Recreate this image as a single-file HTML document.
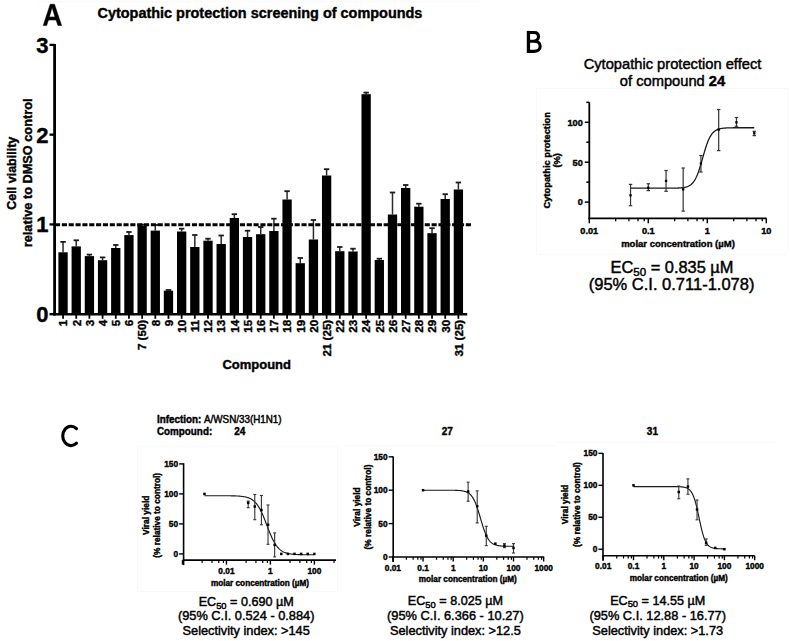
<!DOCTYPE html>
<html><head><meta charset="utf-8"><style>
html,body{margin:0;padding:0;background:#fff;width:790px;height:641px;overflow:hidden}
svg{display:block}
text{font-family:'Liberation Sans', sans-serif;fill:#000;stroke:#000;stroke-width:0.45px}
text[font-weight=bold]{stroke-width:0.4px}
</style></head><body>
<svg width="790" height="641" viewBox="0 0 790 641">
<rect width="790" height="641" fill="#fff"/>
<rect x="536.5" y="88.5" width="251.0" height="166.0" fill="none" stroke="#f9f9f9" stroke-width="1"/>
<rect x="137.5" y="446.5" width="200.0" height="145.0" fill="none" stroke="#f9f9f9" stroke-width="1"/>
<line x1="345.00" y1="445.50" x2="556.00" y2="445.50" stroke="#f9f9f9" stroke-width="1" />
<line x1="557.00" y1="442.50" x2="775.00" y2="442.50" stroke="#f9f9f9" stroke-width="1" />
<line x1="38.00" y1="1.50" x2="480.00" y2="1.50" stroke="#f9f9f9" stroke-width="1" />
<path d="M43.2,25.6 L50.2,4.2 L54.5,4.2 L61.6,25.6 L58.0,25.6 L56.0,20.0 L48.5,20.0 L46.6,25.6 Z M49.35,16.9 L55.0,16.9 L52.1,7.4 Z" fill="#000" fill-rule="evenodd" stroke="#000" stroke-width="0.5" stroke-linejoin="round"/>
<text x="97.50" y="17.80" font-size="14.45" font-weight="bold" text-anchor="start" >Cytopathic protection screening of compounds</text>
<line x1="54.60" y1="43.90" x2="54.60" y2="315.50" stroke="#000" stroke-width="2.8" />
<line x1="49.50" y1="314.20" x2="54.60" y2="314.20" stroke="#000" stroke-width="2.3" />
<text x="48.40" y="322.10" font-size="22" font-weight="bold" text-anchor="end" >0</text>
<line x1="49.50" y1="224.43" x2="54.60" y2="224.43" stroke="#000" stroke-width="2.3" />
<text x="48.40" y="232.33" font-size="22" font-weight="bold" text-anchor="end" >1</text>
<line x1="49.50" y1="134.67" x2="54.60" y2="134.67" stroke="#000" stroke-width="2.3" />
<text x="48.40" y="142.57" font-size="22" font-weight="bold" text-anchor="end" >2</text>
<line x1="49.50" y1="44.90" x2="54.60" y2="44.90" stroke="#000" stroke-width="2.3" />
<text x="48.40" y="52.80" font-size="22" font-weight="bold" text-anchor="end" >3</text>
<line x1="63.05" y1="252.30" x2="63.05" y2="241.90" stroke="#2a2a2a" stroke-width="1.5" />
<line x1="60.35" y1="241.90" x2="65.75" y2="241.90" stroke="#1a1a1a" stroke-width="1.8" />
<rect x="58.40" y="252.30" width="9.3" height="61.90" fill="#000"/>
<line x1="63.05" y1="314.20" x2="63.05" y2="318.80" stroke="#000" stroke-width="1.8" />
<line x1="76.23" y1="246.40" x2="76.23" y2="240.30" stroke="#2a2a2a" stroke-width="1.5" />
<line x1="73.53" y1="240.30" x2="78.93" y2="240.30" stroke="#1a1a1a" stroke-width="1.8" />
<rect x="71.58" y="246.40" width="9.3" height="67.80" fill="#000"/>
<line x1="76.23" y1="314.20" x2="76.23" y2="318.80" stroke="#000" stroke-width="1.8" />
<line x1="89.41" y1="256.10" x2="89.41" y2="254.60" stroke="#2a2a2a" stroke-width="1.5" />
<line x1="86.71" y1="254.60" x2="92.11" y2="254.60" stroke="#1a1a1a" stroke-width="1.8" />
<rect x="84.76" y="256.10" width="9.3" height="58.10" fill="#000"/>
<line x1="89.41" y1="314.20" x2="89.41" y2="318.80" stroke="#000" stroke-width="1.8" />
<line x1="102.58" y1="260.20" x2="102.58" y2="257.40" stroke="#2a2a2a" stroke-width="1.5" />
<line x1="99.88" y1="257.40" x2="105.28" y2="257.40" stroke="#1a1a1a" stroke-width="1.8" />
<rect x="97.93" y="260.20" width="9.3" height="54.00" fill="#000"/>
<line x1="102.58" y1="314.20" x2="102.58" y2="318.80" stroke="#000" stroke-width="1.8" />
<line x1="115.76" y1="248.00" x2="115.76" y2="245.00" stroke="#2a2a2a" stroke-width="1.5" />
<line x1="113.06" y1="245.00" x2="118.46" y2="245.00" stroke="#1a1a1a" stroke-width="1.8" />
<rect x="111.11" y="248.00" width="9.3" height="66.20" fill="#000"/>
<line x1="115.76" y1="314.20" x2="115.76" y2="318.80" stroke="#000" stroke-width="1.8" />
<line x1="128.94" y1="235.10" x2="128.94" y2="232.00" stroke="#2a2a2a" stroke-width="1.5" />
<line x1="126.24" y1="232.00" x2="131.64" y2="232.00" stroke="#1a1a1a" stroke-width="1.8" />
<rect x="124.29" y="235.10" width="9.3" height="79.10" fill="#000"/>
<line x1="128.94" y1="314.20" x2="128.94" y2="318.80" stroke="#000" stroke-width="1.8" />
<line x1="142.12" y1="225.60" x2="142.12" y2="224.60" stroke="#2a2a2a" stroke-width="1.5" />
<line x1="139.42" y1="224.60" x2="144.82" y2="224.60" stroke="#1a1a1a" stroke-width="1.8" />
<rect x="137.47" y="225.60" width="9.3" height="88.60" fill="#000"/>
<line x1="142.12" y1="314.20" x2="142.12" y2="318.80" stroke="#000" stroke-width="1.8" />
<line x1="155.30" y1="230.60" x2="155.30" y2="225.00" stroke="#2a2a2a" stroke-width="1.5" />
<line x1="152.60" y1="225.00" x2="158.00" y2="225.00" stroke="#1a1a1a" stroke-width="1.8" />
<rect x="150.65" y="230.60" width="9.3" height="83.60" fill="#000"/>
<line x1="155.30" y1="314.20" x2="155.30" y2="318.80" stroke="#000" stroke-width="1.8" />
<line x1="168.47" y1="290.70" x2="168.47" y2="290.00" stroke="#2a2a2a" stroke-width="1.5" />
<line x1="165.77" y1="290.00" x2="171.17" y2="290.00" stroke="#1a1a1a" stroke-width="1.8" />
<rect x="163.82" y="290.70" width="9.3" height="23.50" fill="#000"/>
<line x1="168.47" y1="314.20" x2="168.47" y2="318.80" stroke="#000" stroke-width="1.8" />
<line x1="181.65" y1="231.50" x2="181.65" y2="228.70" stroke="#2a2a2a" stroke-width="1.5" />
<line x1="178.95" y1="228.70" x2="184.35" y2="228.70" stroke="#1a1a1a" stroke-width="1.8" />
<rect x="177.00" y="231.50" width="9.3" height="82.70" fill="#000"/>
<line x1="181.65" y1="314.20" x2="181.65" y2="318.80" stroke="#000" stroke-width="1.8" />
<line x1="194.83" y1="247.00" x2="194.83" y2="235.00" stroke="#2a2a2a" stroke-width="1.5" />
<line x1="192.13" y1="235.00" x2="197.53" y2="235.00" stroke="#1a1a1a" stroke-width="1.8" />
<rect x="190.18" y="247.00" width="9.3" height="67.20" fill="#000"/>
<line x1="194.83" y1="314.20" x2="194.83" y2="318.80" stroke="#000" stroke-width="1.8" />
<line x1="208.01" y1="240.70" x2="208.01" y2="238.70" stroke="#2a2a2a" stroke-width="1.5" />
<line x1="205.31" y1="238.70" x2="210.71" y2="238.70" stroke="#1a1a1a" stroke-width="1.8" />
<rect x="203.36" y="240.70" width="9.3" height="73.50" fill="#000"/>
<line x1="208.01" y1="314.20" x2="208.01" y2="318.80" stroke="#000" stroke-width="1.8" />
<line x1="221.19" y1="244.00" x2="221.19" y2="235.50" stroke="#2a2a2a" stroke-width="1.5" />
<line x1="218.49" y1="235.50" x2="223.89" y2="235.50" stroke="#1a1a1a" stroke-width="1.8" />
<rect x="216.54" y="244.00" width="9.3" height="70.20" fill="#000"/>
<line x1="221.19" y1="314.20" x2="221.19" y2="318.80" stroke="#000" stroke-width="1.8" />
<line x1="234.36" y1="218.00" x2="234.36" y2="214.20" stroke="#2a2a2a" stroke-width="1.5" />
<line x1="231.66" y1="214.20" x2="237.06" y2="214.20" stroke="#1a1a1a" stroke-width="1.8" />
<rect x="229.71" y="218.00" width="9.3" height="96.20" fill="#000"/>
<line x1="234.36" y1="314.20" x2="234.36" y2="318.80" stroke="#000" stroke-width="1.8" />
<line x1="247.54" y1="237.00" x2="247.54" y2="230.70" stroke="#2a2a2a" stroke-width="1.5" />
<line x1="244.84" y1="230.70" x2="250.24" y2="230.70" stroke="#1a1a1a" stroke-width="1.8" />
<rect x="242.89" y="237.00" width="9.3" height="77.20" fill="#000"/>
<line x1="247.54" y1="314.20" x2="247.54" y2="318.80" stroke="#000" stroke-width="1.8" />
<line x1="260.72" y1="234.20" x2="260.72" y2="227.00" stroke="#2a2a2a" stroke-width="1.5" />
<line x1="258.02" y1="227.00" x2="263.42" y2="227.00" stroke="#1a1a1a" stroke-width="1.8" />
<rect x="256.07" y="234.20" width="9.3" height="80.00" fill="#000"/>
<line x1="260.72" y1="314.20" x2="260.72" y2="318.80" stroke="#000" stroke-width="1.8" />
<line x1="273.90" y1="231.00" x2="273.90" y2="218.70" stroke="#2a2a2a" stroke-width="1.5" />
<line x1="271.20" y1="218.70" x2="276.60" y2="218.70" stroke="#1a1a1a" stroke-width="1.8" />
<rect x="269.25" y="231.00" width="9.3" height="83.20" fill="#000"/>
<line x1="273.90" y1="314.20" x2="273.90" y2="318.80" stroke="#000" stroke-width="1.8" />
<line x1="287.08" y1="199.50" x2="287.08" y2="191.20" stroke="#2a2a2a" stroke-width="1.5" />
<line x1="284.38" y1="191.20" x2="289.78" y2="191.20" stroke="#1a1a1a" stroke-width="1.8" />
<rect x="282.43" y="199.50" width="9.3" height="114.70" fill="#000"/>
<line x1="287.08" y1="314.20" x2="287.08" y2="318.80" stroke="#000" stroke-width="1.8" />
<line x1="300.25" y1="263.20" x2="300.25" y2="258.00" stroke="#2a2a2a" stroke-width="1.5" />
<line x1="297.55" y1="258.00" x2="302.95" y2="258.00" stroke="#1a1a1a" stroke-width="1.8" />
<rect x="295.60" y="263.20" width="9.3" height="51.00" fill="#000"/>
<line x1="300.25" y1="314.20" x2="300.25" y2="318.80" stroke="#000" stroke-width="1.8" />
<line x1="313.43" y1="239.50" x2="313.43" y2="220.00" stroke="#2a2a2a" stroke-width="1.5" />
<line x1="310.73" y1="220.00" x2="316.13" y2="220.00" stroke="#1a1a1a" stroke-width="1.8" />
<rect x="308.78" y="239.50" width="9.3" height="74.70" fill="#000"/>
<line x1="313.43" y1="314.20" x2="313.43" y2="318.80" stroke="#000" stroke-width="1.8" />
<line x1="326.61" y1="175.50" x2="326.61" y2="169.20" stroke="#2a2a2a" stroke-width="1.5" />
<line x1="323.91" y1="169.20" x2="329.31" y2="169.20" stroke="#1a1a1a" stroke-width="1.8" />
<rect x="321.96" y="175.50" width="9.3" height="138.70" fill="#000"/>
<line x1="326.61" y1="314.20" x2="326.61" y2="318.80" stroke="#000" stroke-width="1.8" />
<line x1="339.79" y1="251.20" x2="339.79" y2="247.00" stroke="#2a2a2a" stroke-width="1.5" />
<line x1="337.09" y1="247.00" x2="342.49" y2="247.00" stroke="#1a1a1a" stroke-width="1.8" />
<rect x="335.14" y="251.20" width="9.3" height="63.00" fill="#000"/>
<line x1="339.79" y1="314.20" x2="339.79" y2="318.80" stroke="#000" stroke-width="1.8" />
<line x1="352.97" y1="251.50" x2="352.97" y2="248.70" stroke="#2a2a2a" stroke-width="1.5" />
<line x1="350.27" y1="248.70" x2="355.67" y2="248.70" stroke="#1a1a1a" stroke-width="1.8" />
<rect x="348.32" y="251.50" width="9.3" height="62.70" fill="#000"/>
<line x1="352.97" y1="314.20" x2="352.97" y2="318.80" stroke="#000" stroke-width="1.8" />
<line x1="366.14" y1="94.20" x2="366.14" y2="92.60" stroke="#2a2a2a" stroke-width="1.5" />
<line x1="363.44" y1="92.60" x2="368.84" y2="92.60" stroke="#1a1a1a" stroke-width="1.8" />
<rect x="361.49" y="94.20" width="9.3" height="220.00" fill="#000"/>
<line x1="366.14" y1="314.20" x2="366.14" y2="318.80" stroke="#000" stroke-width="1.8" />
<line x1="379.32" y1="260.00" x2="379.32" y2="258.70" stroke="#2a2a2a" stroke-width="1.5" />
<line x1="376.62" y1="258.70" x2="382.02" y2="258.70" stroke="#1a1a1a" stroke-width="1.8" />
<rect x="374.67" y="260.00" width="9.3" height="54.20" fill="#000"/>
<line x1="379.32" y1="314.20" x2="379.32" y2="318.80" stroke="#000" stroke-width="1.8" />
<line x1="392.50" y1="214.50" x2="392.50" y2="192.50" stroke="#2a2a2a" stroke-width="1.5" />
<line x1="389.80" y1="192.50" x2="395.20" y2="192.50" stroke="#1a1a1a" stroke-width="1.8" />
<rect x="387.85" y="214.50" width="9.3" height="99.70" fill="#000"/>
<line x1="392.50" y1="314.20" x2="392.50" y2="318.80" stroke="#000" stroke-width="1.8" />
<line x1="405.68" y1="188.00" x2="405.68" y2="185.00" stroke="#2a2a2a" stroke-width="1.5" />
<line x1="402.98" y1="185.00" x2="408.38" y2="185.00" stroke="#1a1a1a" stroke-width="1.8" />
<rect x="401.03" y="188.00" width="9.3" height="126.20" fill="#000"/>
<line x1="405.68" y1="314.20" x2="405.68" y2="318.80" stroke="#000" stroke-width="1.8" />
<line x1="418.86" y1="206.70" x2="418.86" y2="203.70" stroke="#2a2a2a" stroke-width="1.5" />
<line x1="416.16" y1="203.70" x2="421.56" y2="203.70" stroke="#1a1a1a" stroke-width="1.8" />
<rect x="414.21" y="206.70" width="9.3" height="107.50" fill="#000"/>
<line x1="418.86" y1="314.20" x2="418.86" y2="318.80" stroke="#000" stroke-width="1.8" />
<line x1="432.03" y1="233.20" x2="432.03" y2="228.20" stroke="#2a2a2a" stroke-width="1.5" />
<line x1="429.33" y1="228.20" x2="434.73" y2="228.20" stroke="#1a1a1a" stroke-width="1.8" />
<rect x="427.38" y="233.20" width="9.3" height="81.00" fill="#000"/>
<line x1="432.03" y1="314.20" x2="432.03" y2="318.80" stroke="#000" stroke-width="1.8" />
<line x1="445.21" y1="199.00" x2="445.21" y2="194.20" stroke="#2a2a2a" stroke-width="1.5" />
<line x1="442.51" y1="194.20" x2="447.91" y2="194.20" stroke="#1a1a1a" stroke-width="1.8" />
<rect x="440.56" y="199.00" width="9.3" height="115.20" fill="#000"/>
<line x1="445.21" y1="314.20" x2="445.21" y2="318.80" stroke="#000" stroke-width="1.8" />
<line x1="458.39" y1="189.50" x2="458.39" y2="182.50" stroke="#2a2a2a" stroke-width="1.5" />
<line x1="455.69" y1="182.50" x2="461.09" y2="182.50" stroke="#1a1a1a" stroke-width="1.8" />
<rect x="453.74" y="189.50" width="9.3" height="124.70" fill="#000"/>
<line x1="458.39" y1="314.20" x2="458.39" y2="318.80" stroke="#000" stroke-width="1.8" />
<line x1="53.20" y1="314.20" x2="467.20" y2="314.20" stroke="#000" stroke-width="2.6" />
<line x1="55.00" y1="224.73" x2="471.00" y2="224.73" stroke="#000" stroke-width="3.1" stroke-dasharray="5.1 1.747"/>
<text x="0" y="0" font-size="11.6" font-weight="bold" text-anchor="end" transform="translate(67.35 319.8) rotate(-90)">1</text>
<text x="0" y="0" font-size="11.6" font-weight="bold" text-anchor="end" transform="translate(80.53 319.8) rotate(-90)">2</text>
<text x="0" y="0" font-size="11.6" font-weight="bold" text-anchor="end" transform="translate(93.71 319.8) rotate(-90)">3</text>
<text x="0" y="0" font-size="11.6" font-weight="bold" text-anchor="end" transform="translate(106.88 319.8) rotate(-90)">4</text>
<text x="0" y="0" font-size="11.6" font-weight="bold" text-anchor="end" transform="translate(120.06 319.8) rotate(-90)">5</text>
<text x="0" y="0" font-size="11.6" font-weight="bold" text-anchor="end" transform="translate(133.24 319.8) rotate(-90)">6</text>
<text x="0" y="0" font-size="11.6" font-weight="bold" text-anchor="end" transform="translate(146.42 319.8) rotate(-90)">7 (50)</text>
<text x="0" y="0" font-size="11.6" font-weight="bold" text-anchor="end" transform="translate(159.60 319.8) rotate(-90)">8</text>
<text x="0" y="0" font-size="11.6" font-weight="bold" text-anchor="end" transform="translate(172.77 319.8) rotate(-90)">9</text>
<text x="0" y="0" font-size="11.6" font-weight="bold" text-anchor="end" transform="translate(185.95 319.8) rotate(-90)">10</text>
<text x="0" y="0" font-size="11.6" font-weight="bold" text-anchor="end" transform="translate(199.13 319.8) rotate(-90)">11</text>
<text x="0" y="0" font-size="11.6" font-weight="bold" text-anchor="end" transform="translate(212.31 319.8) rotate(-90)">12</text>
<text x="0" y="0" font-size="11.6" font-weight="bold" text-anchor="end" transform="translate(225.49 319.8) rotate(-90)">13</text>
<text x="0" y="0" font-size="11.6" font-weight="bold" text-anchor="end" transform="translate(238.66 319.8) rotate(-90)">14</text>
<text x="0" y="0" font-size="11.6" font-weight="bold" text-anchor="end" transform="translate(251.84 319.8) rotate(-90)">15</text>
<text x="0" y="0" font-size="11.6" font-weight="bold" text-anchor="end" transform="translate(265.02 319.8) rotate(-90)">16</text>
<text x="0" y="0" font-size="11.6" font-weight="bold" text-anchor="end" transform="translate(278.20 319.8) rotate(-90)">17</text>
<text x="0" y="0" font-size="11.6" font-weight="bold" text-anchor="end" transform="translate(291.38 319.8) rotate(-90)">18</text>
<text x="0" y="0" font-size="11.6" font-weight="bold" text-anchor="end" transform="translate(304.55 319.8) rotate(-90)">19</text>
<text x="0" y="0" font-size="11.6" font-weight="bold" text-anchor="end" transform="translate(317.73 319.8) rotate(-90)">20</text>
<text x="0" y="0" font-size="11.6" font-weight="bold" text-anchor="end" transform="translate(330.91 319.8) rotate(-90)">21 (25)</text>
<text x="0" y="0" font-size="11.6" font-weight="bold" text-anchor="end" transform="translate(344.09 319.8) rotate(-90)">22</text>
<text x="0" y="0" font-size="11.6" font-weight="bold" text-anchor="end" transform="translate(357.27 319.8) rotate(-90)">23</text>
<text x="0" y="0" font-size="11.6" font-weight="bold" text-anchor="end" transform="translate(370.44 319.8) rotate(-90)">24</text>
<text x="0" y="0" font-size="11.6" font-weight="bold" text-anchor="end" transform="translate(383.62 319.8) rotate(-90)">25</text>
<text x="0" y="0" font-size="11.6" font-weight="bold" text-anchor="end" transform="translate(396.80 319.8) rotate(-90)">26</text>
<text x="0" y="0" font-size="11.6" font-weight="bold" text-anchor="end" transform="translate(409.98 319.8) rotate(-90)">27</text>
<text x="0" y="0" font-size="11.6" font-weight="bold" text-anchor="end" transform="translate(423.16 319.8) rotate(-90)">28</text>
<text x="0" y="0" font-size="11.6" font-weight="bold" text-anchor="end" transform="translate(436.33 319.8) rotate(-90)">29</text>
<text x="0" y="0" font-size="11.6" font-weight="bold" text-anchor="end" transform="translate(449.51 319.8) rotate(-90)">30</text>
<text x="0" y="0" font-size="11.6" font-weight="bold" text-anchor="end" transform="translate(462.69 319.8) rotate(-90)">31 (25)</text>
<text x="222.40" y="369.30" font-size="13" font-weight="bold" text-anchor="start" >Compound</text>
<text x="0" y="0" font-size="12.5" font-weight="bold" text-anchor="middle" transform="translate(15.8 173.2) rotate(-90)">Cell viability</text>
<text x="0" y="0" font-size="12.75" font-weight="bold" text-anchor="middle" transform="translate(32.0 172.9) rotate(-90)">relative to DMSO control</text>
<path d="M528.45,30.9 V52.9" stroke="#000" stroke-width="3.3" fill="none"/>
<path d="M528.45,32.45 H534.2 C537.5,32.45 538.5,34.5 538.5,36.6 C538.5,39.2 536.6,41.2 533.8,41.2 H528.45 M533.8,41.2 C537.6,41.2 540.2,43.2 540.2,46.2 C540.2,49.5 537.5,51.35 533.8,51.35 H528.45" stroke="#000" stroke-width="3.1" fill="none"/>
<text x="672.50" y="69.40" font-size="14.7" font-weight="normal" text-anchor="middle" >Cytopathic protection effect</text>
<text x="672.5" y="85.9" font-size="14.7" text-anchor="middle">of compound <tspan font-weight="bold">24</tspan></text>
<line x1="589.30" y1="102.20" x2="589.30" y2="219.20" stroke="#000" stroke-width="1.8" />
<line x1="586.30" y1="102.35" x2="589.30" y2="102.35" stroke="#000" stroke-width="1.5" />
<line x1="584.80" y1="122.30" x2="589.30" y2="122.30" stroke="#000" stroke-width="1.5" />
<line x1="586.30" y1="142.25" x2="589.30" y2="142.25" stroke="#000" stroke-width="1.5" />
<line x1="584.80" y1="162.20" x2="589.30" y2="162.20" stroke="#000" stroke-width="1.5" />
<line x1="586.30" y1="182.15" x2="589.30" y2="182.15" stroke="#000" stroke-width="1.5" />
<line x1="584.80" y1="202.10" x2="589.30" y2="202.10" stroke="#000" stroke-width="1.5" />
<text x="582.80" y="125.60" font-size="9.2" font-weight="bold" text-anchor="end" >100</text>
<text x="582.80" y="165.50" font-size="9.2" font-weight="bold" text-anchor="end" >50</text>
<text x="582.80" y="205.40" font-size="9.2" font-weight="bold" text-anchor="end" >0</text>
<line x1="588.40" y1="218.30" x2="766.60" y2="218.30" stroke="#000" stroke-width="1.8" />
<line x1="589.30" y1="218.30" x2="589.30" y2="223.30" stroke="#000" stroke-width="1.5" />
<line x1="615.67" y1="218.30" x2="615.67" y2="221.30" stroke="#000" stroke-width="1.3" />
<line x1="628.89" y1="218.30" x2="628.89" y2="221.30" stroke="#000" stroke-width="1.3" />
<line x1="638.03" y1="218.30" x2="638.03" y2="221.30" stroke="#000" stroke-width="1.3" />
<line x1="644.23" y1="218.30" x2="644.23" y2="221.30" stroke="#000" stroke-width="1.3" />
<line x1="648.30" y1="218.30" x2="648.30" y2="223.30" stroke="#000" stroke-width="1.5" />
<line x1="674.67" y1="218.30" x2="674.67" y2="221.30" stroke="#000" stroke-width="1.3" />
<line x1="687.89" y1="218.30" x2="687.89" y2="221.30" stroke="#000" stroke-width="1.3" />
<line x1="697.03" y1="218.30" x2="697.03" y2="221.30" stroke="#000" stroke-width="1.3" />
<line x1="703.23" y1="218.30" x2="703.23" y2="221.30" stroke="#000" stroke-width="1.3" />
<line x1="707.30" y1="218.30" x2="707.30" y2="223.30" stroke="#000" stroke-width="1.5" />
<line x1="733.67" y1="218.30" x2="733.67" y2="221.30" stroke="#000" stroke-width="1.3" />
<line x1="746.89" y1="218.30" x2="746.89" y2="221.30" stroke="#000" stroke-width="1.3" />
<line x1="756.03" y1="218.30" x2="756.03" y2="221.30" stroke="#000" stroke-width="1.3" />
<line x1="762.23" y1="218.30" x2="762.23" y2="221.30" stroke="#000" stroke-width="1.3" />
<line x1="766.30" y1="218.30" x2="766.30" y2="223.30" stroke="#000" stroke-width="1.5" />
<text x="589.30" y="233.60" font-size="9.2" font-weight="bold" text-anchor="middle" >0.01</text>
<text x="648.30" y="233.60" font-size="9.2" font-weight="bold" text-anchor="middle" >0.1</text>
<text x="707.30" y="233.60" font-size="9.2" font-weight="bold" text-anchor="middle" >1</text>
<text x="766.30" y="233.60" font-size="9.2" font-weight="bold" text-anchor="middle" >10</text>
<text x="678.00" y="247.30" font-size="9.5" font-weight="bold" text-anchor="middle" >molar concentration (µM)</text>
<text x="0" y="0" font-size="9.35" font-weight="bold" text-anchor="middle" transform="translate(549.9 160.3) rotate(-90)">Cytopathic protection</text>
<text x="0" y="0" font-size="9.35" font-weight="bold" text-anchor="middle" transform="translate(560.4 160.3) rotate(-90)">(%)</text>
<path d="M630.54,188.21 L631.16,188.21 L631.78,188.21 L632.39,188.21 L633.01,188.21 L633.63,188.21 L634.25,188.21 L634.87,188.21 L635.49,188.21 L636.11,188.21 L636.73,188.21 L637.34,188.21 L637.96,188.21 L638.58,188.21 L639.20,188.21 L639.82,188.21 L640.44,188.21 L641.06,188.21 L641.67,188.21 L642.29,188.21 L642.91,188.21 L643.53,188.21 L644.15,188.21 L644.77,188.21 L645.39,188.21 L646.00,188.21 L646.62,188.21 L647.24,188.21 L647.86,188.21 L648.48,188.21 L649.10,188.21 L649.72,188.21 L650.33,188.21 L650.95,188.21 L651.57,188.21 L652.19,188.21 L652.81,188.21 L653.43,188.21 L654.05,188.21 L654.66,188.21 L655.28,188.21 L655.90,188.21 L656.52,188.21 L657.14,188.21 L657.76,188.21 L658.38,188.21 L658.99,188.21 L659.61,188.21 L660.23,188.21 L660.85,188.21 L661.47,188.21 L662.09,188.21 L662.71,188.21 L663.32,188.21 L663.94,188.21 L664.56,188.21 L665.18,188.21 L665.80,188.20 L666.42,188.20 L667.04,188.20 L667.65,188.20 L668.27,188.20 L668.89,188.19 L669.51,188.19 L670.13,188.19 L670.75,188.18 L671.37,188.18 L671.98,188.17 L672.60,188.16 L673.22,188.15 L673.84,188.14 L674.46,188.13 L675.08,188.12 L675.70,188.11 L676.31,188.09 L676.93,188.07 L677.55,188.05 L678.17,188.02 L678.79,187.99 L679.41,187.96 L680.03,187.92 L680.64,187.87 L681.26,187.82 L681.88,187.75 L682.50,187.68 L683.12,187.60 L683.74,187.51 L684.36,187.40 L684.98,187.27 L685.59,187.13 L686.21,186.96 L686.83,186.77 L687.45,186.55 L688.07,186.30 L688.69,186.01 L689.31,185.69 L689.92,185.31 L690.54,184.88 L691.16,184.40 L691.78,183.84 L692.40,183.22 L693.02,182.51 L693.64,181.72 L694.25,180.83 L694.87,179.84 L695.49,178.74 L696.11,177.52 L696.73,176.19 L697.35,174.73 L697.97,173.15 L698.58,171.45 L699.20,169.64 L699.82,167.73 L700.44,165.72 L701.06,163.64 L701.68,161.50 L702.30,159.33 L702.91,157.14 L703.53,154.96 L704.15,152.81 L704.77,150.71 L705.39,148.69 L706.01,146.75 L706.63,144.91 L707.24,143.19 L707.86,141.58 L708.48,140.09 L709.10,138.73 L709.72,137.49 L710.34,136.36 L710.96,135.34 L711.57,134.43 L712.19,133.61 L712.81,132.89 L713.43,132.24 L714.05,131.67 L714.67,131.17 L715.29,130.73 L715.90,130.34 L716.52,130.00 L717.14,129.71 L717.76,129.45 L718.38,129.22 L719.00,129.02 L719.62,128.85 L720.23,128.70 L720.85,128.57 L721.47,128.46 L722.09,128.36 L722.71,128.28 L723.33,128.20 L723.95,128.14 L724.56,128.08 L725.18,128.04 L725.80,127.99 L726.42,127.96 L727.04,127.93 L727.66,127.90 L728.28,127.88 L728.89,127.86 L729.51,127.84 L730.13,127.82 L730.75,127.81 L731.37,127.80 L731.99,127.79 L732.61,127.78 L733.22,127.77 L733.84,127.77 L734.46,127.76 L735.08,127.76 L735.70,127.75 L736.32,127.75 L736.94,127.75 L737.56,127.74 L738.17,127.74 L738.79,127.74 L739.41,127.74 L740.03,127.74 L740.65,127.73 L741.27,127.73 L741.89,127.73 L742.50,127.73 L743.12,127.73 L743.74,127.73 L744.36,127.73 L744.98,127.73 L745.60,127.73 L746.22,127.73 L746.83,127.73 L747.45,127.73 L748.07,127.73 L748.69,127.73 L749.31,127.73 L749.93,127.73 L750.55,127.73 L751.16,127.73 L751.78,127.73 L752.40,127.73 L753.02,127.73 L753.64,127.73 L754.26,127.73" fill="none" stroke="#1a1a1a" stroke-width="1.3"/>
<line x1="630.54" y1="205.69" x2="630.54" y2="184.38" stroke="#333" stroke-width="1.2" />
<line x1="628.84" y1="205.69" x2="632.24" y2="205.69" stroke="#333" stroke-width="1.2" />
<line x1="628.84" y1="184.38" x2="632.24" y2="184.38" stroke="#333" stroke-width="1.2" />
<rect x="629.39" y="194.17" width="2.30" height="2.30" fill="#000"/>
<line x1="648.30" y1="190.61" x2="648.30" y2="183.75" stroke="#333" stroke-width="1.2" />
<line x1="646.60" y1="190.61" x2="650.00" y2="190.61" stroke="#333" stroke-width="1.2" />
<line x1="646.60" y1="183.75" x2="650.00" y2="183.75" stroke="#333" stroke-width="1.2" />
<rect x="647.15" y="186.59" width="2.30" height="2.30" fill="#000"/>
<line x1="666.06" y1="191.33" x2="666.06" y2="170.50" stroke="#333" stroke-width="1.2" />
<line x1="664.36" y1="191.33" x2="667.76" y2="191.33" stroke="#333" stroke-width="1.2" />
<line x1="664.36" y1="170.50" x2="667.76" y2="170.50" stroke="#333" stroke-width="1.2" />
<rect x="664.91" y="179.72" width="2.30" height="2.30" fill="#000"/>
<line x1="683.17" y1="211.12" x2="683.17" y2="168.03" stroke="#333" stroke-width="1.2" />
<line x1="681.47" y1="211.12" x2="684.87" y2="211.12" stroke="#333" stroke-width="1.2" />
<line x1="681.47" y1="168.03" x2="684.87" y2="168.03" stroke="#333" stroke-width="1.2" />
<rect x="682.02" y="188.18" width="2.30" height="2.30" fill="#000"/>
<line x1="700.93" y1="172.02" x2="700.93" y2="155.50" stroke="#333" stroke-width="1.2" />
<line x1="699.23" y1="172.02" x2="702.63" y2="172.02" stroke="#333" stroke-width="1.2" />
<line x1="699.23" y1="155.50" x2="702.63" y2="155.50" stroke="#333" stroke-width="1.2" />
<rect x="699.78" y="162.33" width="2.30" height="2.30" fill="#000"/>
<line x1="718.69" y1="150.63" x2="718.69" y2="109.53" stroke="#333" stroke-width="1.2" />
<line x1="716.99" y1="150.63" x2="720.39" y2="150.63" stroke="#333" stroke-width="1.2" />
<line x1="716.99" y1="109.53" x2="720.39" y2="109.53" stroke="#333" stroke-width="1.2" />
<rect x="717.54" y="128.49" width="2.30" height="2.30" fill="#000"/>
<line x1="736.46" y1="126.29" x2="736.46" y2="117.51" stroke="#333" stroke-width="1.2" />
<line x1="734.76" y1="126.29" x2="738.16" y2="126.29" stroke="#333" stroke-width="1.2" />
<line x1="734.76" y1="117.51" x2="738.16" y2="117.51" stroke="#333" stroke-width="1.2" />
<rect x="735.31" y="121.15" width="2.30" height="2.30" fill="#000"/>
<line x1="754.26" y1="135.63" x2="754.26" y2="131.32" stroke="#333" stroke-width="1.2" />
<line x1="752.56" y1="135.63" x2="755.96" y2="135.63" stroke="#333" stroke-width="1.2" />
<line x1="752.56" y1="131.32" x2="755.96" y2="131.32" stroke="#333" stroke-width="1.2" />
<rect x="753.11" y="132.08" width="2.30" height="2.30" fill="#000"/>
<text x="672.00" y="272.80" font-size="16.4" font-weight="normal" text-anchor="middle" >EC<tspan font-size="11.5" dy="3.0">50</tspan><tspan dy="-3.0"> = 0.835 µM</tspan></text>
<text x="671.60" y="289.70" font-size="16.5" font-weight="normal" text-anchor="middle" >(95% C.I. 0.711-1.078)</text>
<path d="M76.5,428.6 A8.3,9.7 0 1 0 76.5,443.2" stroke="#000" stroke-width="3.1" fill="none" stroke-linecap="round"/>
<g transform="translate(157 0) scale(0.965 1) translate(-157 0)">
<text x="157" y="423.2" font-size="10.2"><tspan font-weight="bold">Infection: </tspan>A/WSN/33(H1N1)</text>
<text x="157.00" y="435.00" font-size="10.2" font-weight="bold" text-anchor="start" >Compound:</text>
</g>
<text x="234.20" y="435.00" font-size="10.0" font-weight="bold" text-anchor="start" >24</text>
<text x="447.30" y="435.40" font-size="10.0" font-weight="bold" text-anchor="middle" >27</text>
<text x="652.40" y="435.40" font-size="10.0" font-weight="bold" text-anchor="middle" >31</text>
<line x1="183.60" y1="463.20" x2="183.60" y2="565.10" stroke="#000" stroke-width="1.6" />
<line x1="179.10" y1="463.90" x2="183.60" y2="463.90" stroke="#000" stroke-width="1.4" />
<text x="178.00" y="466.90" font-size="8.3" font-weight="bold" text-anchor="end" >150</text>
<line x1="179.10" y1="493.90" x2="183.60" y2="493.90" stroke="#000" stroke-width="1.4" />
<text x="178.00" y="496.90" font-size="8.3" font-weight="bold" text-anchor="end" >100</text>
<line x1="179.10" y1="523.90" x2="183.60" y2="523.90" stroke="#000" stroke-width="1.4" />
<text x="178.00" y="526.90" font-size="8.3" font-weight="bold" text-anchor="end" >50</text>
<line x1="179.10" y1="553.90" x2="183.60" y2="553.90" stroke="#000" stroke-width="1.4" />
<text x="178.00" y="556.90" font-size="8.3" font-weight="bold" text-anchor="end" >0</text>
<line x1="182.80" y1="560.10" x2="336.00" y2="560.10" stroke="#000" stroke-width="1.6" />
<line x1="182.48" y1="560.10" x2="182.48" y2="564.60" stroke="#000" stroke-width="1.4" />
<line x1="226.44" y1="560.10" x2="226.44" y2="564.60" stroke="#000" stroke-width="1.4" />
<line x1="270.40" y1="560.10" x2="270.40" y2="564.60" stroke="#000" stroke-width="1.4" />
<line x1="314.36" y1="560.10" x2="314.36" y2="564.60" stroke="#000" stroke-width="1.4" />
<line x1="202.13" y1="560.10" x2="202.13" y2="562.90" stroke="#000" stroke-width="1.2" />
<line x1="211.98" y1="560.10" x2="211.98" y2="562.90" stroke="#000" stroke-width="1.2" />
<line x1="218.79" y1="560.10" x2="218.79" y2="562.90" stroke="#000" stroke-width="1.2" />
<line x1="223.41" y1="560.10" x2="223.41" y2="562.90" stroke="#000" stroke-width="1.2" />
<line x1="246.09" y1="560.10" x2="246.09" y2="562.90" stroke="#000" stroke-width="1.2" />
<line x1="255.94" y1="560.10" x2="255.94" y2="562.90" stroke="#000" stroke-width="1.2" />
<line x1="262.75" y1="560.10" x2="262.75" y2="562.90" stroke="#000" stroke-width="1.2" />
<line x1="267.37" y1="560.10" x2="267.37" y2="562.90" stroke="#000" stroke-width="1.2" />
<line x1="290.05" y1="560.10" x2="290.05" y2="562.90" stroke="#000" stroke-width="1.2" />
<line x1="299.90" y1="560.10" x2="299.90" y2="562.90" stroke="#000" stroke-width="1.2" />
<line x1="306.71" y1="560.10" x2="306.71" y2="562.90" stroke="#000" stroke-width="1.2" />
<line x1="311.33" y1="560.10" x2="311.33" y2="562.90" stroke="#000" stroke-width="1.2" />
<line x1="334.03" y1="560.10" x2="334.03" y2="562.90" stroke="#000" stroke-width="1.2" />
<text x="226.44" y="574.00" font-size="8.3" font-weight="bold" text-anchor="middle" >0.01</text>
<text x="270.40" y="574.00" font-size="8.3" font-weight="bold" text-anchor="middle" >1</text>
<text x="314.36" y="574.00" font-size="8.3" font-weight="bold" text-anchor="middle" >100</text>
<text x="260.00" y="585.70" font-size="8.2" font-weight="bold" text-anchor="middle" >molar concentration (µM)</text>
<text x="0" y="0" font-size="8.4" font-weight="bold" text-anchor="middle" transform="translate(148.80 515.30) rotate(-90)">Viral yield</text>
<text x="0" y="0" font-size="8.3" font-weight="bold" text-anchor="middle" transform="translate(159.80 515.30) rotate(-90)">(% relative to control)</text>
<path d="M204.46,495.70 L205.01,495.70 L205.56,495.70 L206.11,495.70 L206.66,495.70 L207.21,495.70 L207.76,495.70 L208.31,495.70 L208.86,495.70 L209.41,495.70 L209.95,495.70 L210.50,495.70 L211.05,495.70 L211.60,495.70 L212.15,495.70 L212.70,495.70 L213.25,495.70 L213.80,495.70 L214.35,495.71 L214.90,495.71 L215.45,495.71 L216.00,495.71 L216.55,495.71 L217.10,495.71 L217.65,495.71 L218.20,495.71 L218.75,495.71 L219.30,495.71 L219.85,495.71 L220.40,495.72 L220.94,495.72 L221.49,495.72 L222.04,495.72 L222.59,495.72 L223.14,495.72 L223.69,495.73 L224.24,495.73 L224.79,495.73 L225.34,495.74 L225.89,495.74 L226.44,495.74 L226.99,495.75 L227.54,495.75 L228.09,495.76 L228.64,495.77 L229.19,495.77 L229.74,495.78 L230.29,495.79 L230.84,495.80 L231.39,495.81 L231.93,495.82 L232.48,495.83 L233.03,495.84 L233.58,495.86 L234.13,495.87 L234.68,495.89 L235.23,495.91 L235.78,495.93 L236.33,495.96 L236.88,495.98 L237.43,496.01 L237.98,496.04 L238.53,496.08 L239.08,496.12 L239.63,496.16 L240.18,496.21 L240.73,496.26 L241.28,496.31 L241.83,496.38 L242.38,496.45 L242.92,496.52 L243.47,496.60 L244.02,496.70 L244.57,496.80 L245.12,496.91 L245.67,497.03 L246.22,497.16 L246.77,497.31 L247.32,497.47 L247.87,497.64 L248.42,497.84 L248.97,498.05 L249.52,498.28 L250.07,498.53 L250.62,498.81 L251.17,499.11 L251.72,499.43 L252.27,499.79 L252.82,500.18 L253.37,500.60 L253.91,501.06 L254.46,501.56 L255.01,502.09 L255.56,502.67 L256.11,503.30 L256.66,503.97 L257.21,504.69 L257.76,505.46 L258.31,506.29 L258.86,507.17 L259.41,508.10 L259.96,509.08 L260.51,510.12 L261.06,511.22 L261.61,512.36 L262.16,513.56 L262.71,514.80 L263.26,516.09 L263.81,517.41 L264.36,518.77 L264.90,520.16 L265.45,521.58 L266.00,523.01 L266.55,524.45 L267.10,525.89 L267.65,527.34 L268.20,528.77 L268.75,530.19 L269.30,531.58 L269.85,532.94 L270.40,534.27 L270.95,535.56 L271.50,536.81 L272.05,538.01 L272.60,539.16 L273.15,540.26 L273.70,541.31 L274.25,542.30 L274.80,543.24 L275.35,544.12 L275.89,544.95 L276.44,545.73 L276.99,546.45 L277.54,547.13 L278.09,547.76 L278.64,548.34 L279.19,548.89 L279.74,549.39 L280.29,549.85 L280.84,550.28 L281.39,550.67 L281.94,551.03 L282.49,551.36 L283.04,551.66 L283.59,551.94 L284.14,552.20 L284.69,552.43 L285.24,552.64 L285.79,552.84 L286.34,553.01 L286.88,553.18 L287.43,553.32 L287.98,553.46 L288.53,553.58 L289.08,553.69 L289.63,553.79 L290.18,553.89 L290.73,553.97 L291.28,554.05 L291.83,554.12 L292.38,554.18 L292.93,554.24 L293.48,554.29 L294.03,554.34 L294.58,554.38 L295.13,554.42 L295.68,554.45 L296.23,554.49 L296.78,554.51 L297.33,554.54 L297.88,554.57 L298.42,554.59 L298.97,554.61 L299.52,554.62 L300.07,554.64 L300.62,554.66 L301.17,554.67 L301.72,554.68 L302.27,554.69 L302.82,554.70 L303.37,554.71 L303.92,554.72 L304.47,554.73 L305.02,554.73 L305.57,554.74 L306.12,554.75 L306.67,554.75 L307.22,554.76 L307.77,554.76 L308.32,554.76 L308.87,554.77 L309.41,554.77 L309.96,554.77 L310.51,554.78 L311.06,554.78 L311.61,554.78 L312.16,554.78 L312.71,554.78 L313.26,554.78 L313.81,554.79 L314.36,554.79" fill="none" stroke="#1a1a1a" stroke-width="1.15"/>
<rect x="203.21" y="492.65" width="2.50" height="2.50" fill="#000"/>
<line x1="248.20" y1="507.70" x2="248.20" y2="501.10" stroke="#333" stroke-width="1.1" />
<line x1="246.70" y1="507.70" x2="249.70" y2="507.70" stroke="#333" stroke-width="1.1" />
<line x1="246.70" y1="501.10" x2="249.70" y2="501.10" stroke="#333" stroke-width="1.1" />
<rect x="246.95" y="501.65" width="2.50" height="2.50" fill="#000"/>
<line x1="254.79" y1="519.70" x2="254.79" y2="494.50" stroke="#333" stroke-width="1.1" />
<line x1="253.29" y1="519.70" x2="256.29" y2="519.70" stroke="#333" stroke-width="1.1" />
<line x1="253.29" y1="494.50" x2="256.29" y2="494.50" stroke="#333" stroke-width="1.1" />
<rect x="253.54" y="505.25" width="2.50" height="2.50" fill="#000"/>
<line x1="261.41" y1="524.80" x2="261.41" y2="495.46" stroke="#333" stroke-width="1.1" />
<line x1="259.91" y1="524.80" x2="262.91" y2="524.80" stroke="#333" stroke-width="1.1" />
<line x1="259.91" y1="495.46" x2="262.91" y2="495.46" stroke="#333" stroke-width="1.1" />
<rect x="260.16" y="508.85" width="2.50" height="2.50" fill="#000"/>
<line x1="268.03" y1="544.30" x2="268.03" y2="505.00" stroke="#333" stroke-width="1.1" />
<line x1="266.53" y1="544.30" x2="269.53" y2="544.30" stroke="#333" stroke-width="1.1" />
<line x1="266.53" y1="505.00" x2="269.53" y2="505.00" stroke="#333" stroke-width="1.1" />
<rect x="266.78" y="523.55" width="2.50" height="2.50" fill="#000"/>
<line x1="274.66" y1="556.90" x2="274.66" y2="532.90" stroke="#333" stroke-width="1.1" />
<line x1="273.16" y1="556.90" x2="276.16" y2="556.90" stroke="#333" stroke-width="1.1" />
<line x1="273.16" y1="532.90" x2="276.16" y2="532.90" stroke="#333" stroke-width="1.1" />
<rect x="273.41" y="543.65" width="2.50" height="2.50" fill="#000"/>
<rect x="280.03" y="552.65" width="2.50" height="2.50" fill="#000"/>
<rect x="286.64" y="552.65" width="2.50" height="2.50" fill="#000"/>
<rect x="293.26" y="552.65" width="2.50" height="2.50" fill="#000"/>
<rect x="299.88" y="552.65" width="2.50" height="2.50" fill="#000"/>
<rect x="306.49" y="552.65" width="2.50" height="2.50" fill="#000"/>
<rect x="313.11" y="552.65" width="2.50" height="2.50" fill="#000"/>
<text x="246.2" y="605.9" font-size="12.6" text-anchor="middle">EC<tspan font-size="9.4" dy="2.6">50</tspan><tspan dy="-2.6"> = 0.690 µM</tspan></text>
<text x="246.20" y="619.80" font-size="12.8" font-weight="normal" text-anchor="middle" >(95% C.I. 0.524 - 0.884)</text>
<text x="246.20" y="634.60" font-size="12.75" font-weight="normal" text-anchor="middle" >Selectivity index: &gt;145</text>
<line x1="393.20" y1="456.60" x2="393.20" y2="562.00" stroke="#000" stroke-width="1.6" />
<line x1="388.70" y1="456.80" x2="393.20" y2="456.80" stroke="#000" stroke-width="1.4" />
<text x="387.60" y="459.80" font-size="8.3" font-weight="bold" text-anchor="end" >150</text>
<line x1="388.70" y1="490.20" x2="393.20" y2="490.20" stroke="#000" stroke-width="1.4" />
<text x="387.60" y="493.20" font-size="8.3" font-weight="bold" text-anchor="end" >100</text>
<line x1="388.70" y1="523.60" x2="393.20" y2="523.60" stroke="#000" stroke-width="1.4" />
<text x="387.60" y="526.60" font-size="8.3" font-weight="bold" text-anchor="end" >50</text>
<line x1="388.70" y1="557.00" x2="393.20" y2="557.00" stroke="#000" stroke-width="1.4" />
<text x="387.60" y="560.00" font-size="8.3" font-weight="bold" text-anchor="end" >0</text>
<line x1="392.40" y1="557.00" x2="544.20" y2="557.00" stroke="#000" stroke-width="1.6" />
<line x1="392.90" y1="557.00" x2="392.90" y2="561.50" stroke="#000" stroke-width="1.4" />
<line x1="423.05" y1="557.00" x2="423.05" y2="561.50" stroke="#000" stroke-width="1.4" />
<line x1="453.20" y1="557.00" x2="453.20" y2="561.50" stroke="#000" stroke-width="1.4" />
<line x1="483.35" y1="557.00" x2="483.35" y2="561.50" stroke="#000" stroke-width="1.4" />
<line x1="513.50" y1="557.00" x2="513.50" y2="561.50" stroke="#000" stroke-width="1.4" />
<line x1="543.65" y1="557.00" x2="543.65" y2="561.50" stroke="#000" stroke-width="1.4" />
<line x1="406.38" y1="557.00" x2="406.38" y2="559.80" stroke="#000" stroke-width="1.2" />
<line x1="413.13" y1="557.00" x2="413.13" y2="559.80" stroke="#000" stroke-width="1.2" />
<line x1="417.80" y1="557.00" x2="417.80" y2="559.80" stroke="#000" stroke-width="1.2" />
<line x1="420.97" y1="557.00" x2="420.97" y2="559.80" stroke="#000" stroke-width="1.2" />
<line x1="436.53" y1="557.00" x2="436.53" y2="559.80" stroke="#000" stroke-width="1.2" />
<line x1="443.28" y1="557.00" x2="443.28" y2="559.80" stroke="#000" stroke-width="1.2" />
<line x1="447.95" y1="557.00" x2="447.95" y2="559.80" stroke="#000" stroke-width="1.2" />
<line x1="451.12" y1="557.00" x2="451.12" y2="559.80" stroke="#000" stroke-width="1.2" />
<line x1="466.68" y1="557.00" x2="466.68" y2="559.80" stroke="#000" stroke-width="1.2" />
<line x1="473.43" y1="557.00" x2="473.43" y2="559.80" stroke="#000" stroke-width="1.2" />
<line x1="478.10" y1="557.00" x2="478.10" y2="559.80" stroke="#000" stroke-width="1.2" />
<line x1="481.27" y1="557.00" x2="481.27" y2="559.80" stroke="#000" stroke-width="1.2" />
<line x1="496.83" y1="557.00" x2="496.83" y2="559.80" stroke="#000" stroke-width="1.2" />
<line x1="503.58" y1="557.00" x2="503.58" y2="559.80" stroke="#000" stroke-width="1.2" />
<line x1="508.25" y1="557.00" x2="508.25" y2="559.80" stroke="#000" stroke-width="1.2" />
<line x1="511.42" y1="557.00" x2="511.42" y2="559.80" stroke="#000" stroke-width="1.2" />
<line x1="526.98" y1="557.00" x2="526.98" y2="559.80" stroke="#000" stroke-width="1.2" />
<line x1="533.73" y1="557.00" x2="533.73" y2="559.80" stroke="#000" stroke-width="1.2" />
<line x1="538.40" y1="557.00" x2="538.40" y2="559.80" stroke="#000" stroke-width="1.2" />
<line x1="541.57" y1="557.00" x2="541.57" y2="559.80" stroke="#000" stroke-width="1.2" />
<text x="392.90" y="570.60" font-size="8.3" font-weight="bold" text-anchor="middle" >0.01</text>
<text x="423.05" y="570.60" font-size="8.3" font-weight="bold" text-anchor="middle" >0.1</text>
<text x="453.20" y="570.60" font-size="8.3" font-weight="bold" text-anchor="middle" >1</text>
<text x="483.35" y="570.60" font-size="8.3" font-weight="bold" text-anchor="middle" >10</text>
<text x="513.50" y="570.60" font-size="8.3" font-weight="bold" text-anchor="middle" >100</text>
<text x="543.65" y="570.60" font-size="8.3" font-weight="bold" text-anchor="middle" >1000</text>
<text x="467.80" y="582.40" font-size="8.2" font-weight="bold" text-anchor="middle" >molar concentration (µM)</text>
<text x="0" y="0" font-size="8.4" font-weight="bold" text-anchor="middle" transform="translate(359.80 507.00) rotate(-90)">Viral yield</text>
<text x="0" y="0" font-size="8.3" font-weight="bold" text-anchor="middle" transform="translate(371.20 507.00) rotate(-90)">(% relative to control)</text>
<path d="M423.05,490.20 L423.50,490.20 L423.95,490.20 L424.41,490.20 L424.86,490.20 L425.31,490.20 L425.76,490.20 L426.22,490.20 L426.67,490.20 L427.12,490.20 L427.57,490.20 L428.02,490.20 L428.48,490.20 L428.93,490.20 L429.38,490.20 L429.83,490.20 L430.29,490.20 L430.74,490.20 L431.19,490.20 L431.64,490.20 L432.09,490.20 L432.55,490.20 L433.00,490.20 L433.45,490.20 L433.90,490.20 L434.36,490.20 L434.81,490.20 L435.26,490.20 L435.71,490.20 L436.17,490.20 L436.62,490.20 L437.07,490.20 L437.52,490.20 L437.97,490.20 L438.43,490.20 L438.88,490.20 L439.33,490.20 L439.78,490.20 L440.24,490.20 L440.69,490.20 L441.14,490.20 L441.59,490.20 L442.04,490.20 L442.50,490.21 L442.95,490.21 L443.40,490.21 L443.85,490.21 L444.31,490.21 L444.76,490.21 L445.21,490.21 L445.66,490.21 L446.11,490.21 L446.57,490.21 L447.02,490.22 L447.47,490.22 L447.92,490.22 L448.38,490.22 L448.83,490.22 L449.28,490.23 L449.73,490.23 L450.19,490.23 L450.64,490.24 L451.09,490.24 L451.54,490.25 L451.99,490.25 L452.45,490.26 L452.90,490.27 L453.35,490.27 L453.80,490.28 L454.26,490.29 L454.71,490.30 L455.16,490.32 L455.61,490.33 L456.06,490.34 L456.52,490.36 L456.97,490.38 L457.42,490.40 L457.87,490.42 L458.33,490.45 L458.78,490.48 L459.23,490.51 L459.68,490.55 L460.13,490.59 L460.59,490.63 L461.04,490.68 L461.49,490.74 L461.94,490.80 L462.40,490.87 L462.85,490.95 L463.30,491.03 L463.75,491.13 L464.20,491.23 L464.66,491.35 L465.11,491.48 L465.56,491.63 L466.01,491.79 L466.47,491.97 L466.92,492.17 L467.37,492.40 L467.82,492.64 L468.27,492.91 L468.73,493.21 L469.18,493.54 L469.63,493.91 L470.08,494.31 L470.54,494.75 L470.99,495.24 L471.44,495.77 L471.89,496.34 L472.35,496.98 L472.80,497.66 L473.25,498.41 L473.70,499.21 L474.15,500.08 L474.61,501.01 L475.06,502.01 L475.51,503.07 L475.96,504.20 L476.42,505.39 L476.87,506.65 L477.32,507.96 L477.77,509.33 L478.22,510.75 L478.68,512.21 L479.13,513.70 L479.58,515.22 L480.03,516.76 L480.49,518.31 L480.94,519.86 L481.39,521.40 L481.84,522.92 L482.29,524.41 L482.75,525.87 L483.20,527.28 L483.65,528.65 L484.10,529.96 L484.56,531.21 L485.01,532.40 L485.46,533.52 L485.91,534.58 L486.37,535.57 L486.82,536.50 L487.27,537.36 L487.72,538.16 L488.17,538.90 L488.63,539.59 L489.08,540.21 L489.53,540.79 L489.98,541.31 L490.44,541.80 L490.89,542.23 L491.34,542.63 L491.79,542.99 L492.24,543.32 L492.70,543.62 L493.15,543.89 L493.60,544.13 L494.05,544.35 L494.51,544.55 L494.96,544.73 L495.41,544.89 L495.86,545.04 L496.31,545.17 L496.77,545.29 L497.22,545.39 L497.67,545.49 L498.12,545.57 L498.58,545.65 L499.03,545.72 L499.48,545.78 L499.93,545.83 L500.38,545.88 L500.84,545.93 L501.29,545.97 L501.74,546.00 L502.19,546.04 L502.65,546.06 L503.10,546.09 L503.55,546.11 L504.00,546.13 L504.45,546.15 L504.91,546.17 L505.36,546.18 L505.81,546.20 L506.26,546.21 L506.72,546.22 L507.17,546.23 L507.62,546.24 L508.07,546.25 L508.53,546.25 L508.98,546.26 L509.43,546.26 L509.88,546.27 L510.33,546.27 L510.79,546.28 L511.24,546.28 L511.69,546.28 L512.14,546.29 L512.60,546.29 L513.05,546.29 L513.50,546.29" fill="none" stroke="#1a1a1a" stroke-width="1.15"/>
<rect x="421.80" y="488.95" width="2.50" height="2.50" fill="#000"/>
<line x1="468.12" y1="501.22" x2="468.12" y2="482.18" stroke="#333" stroke-width="1.1" />
<line x1="466.62" y1="501.22" x2="469.62" y2="501.22" stroke="#333" stroke-width="1.1" />
<line x1="466.62" y1="482.18" x2="469.62" y2="482.18" stroke="#333" stroke-width="1.1" />
<rect x="466.87" y="490.29" width="2.50" height="2.50" fill="#000"/>
<line x1="477.20" y1="522.93" x2="477.20" y2="490.87" stroke="#333" stroke-width="1.1" />
<line x1="475.70" y1="522.93" x2="478.70" y2="522.93" stroke="#333" stroke-width="1.1" />
<line x1="475.70" y1="490.87" x2="478.70" y2="490.87" stroke="#333" stroke-width="1.1" />
<rect x="475.95" y="504.98" width="2.50" height="2.50" fill="#000"/>
<line x1="486.27" y1="545.64" x2="486.27" y2="526.27" stroke="#333" stroke-width="1.1" />
<line x1="484.77" y1="545.64" x2="487.77" y2="545.64" stroke="#333" stroke-width="1.1" />
<line x1="484.77" y1="526.27" x2="487.77" y2="526.27" stroke="#333" stroke-width="1.1" />
<rect x="485.02" y="534.37" width="2.50" height="2.50" fill="#000"/>
<rect x="494.10" y="542.39" width="2.50" height="2.50" fill="#000"/>
<line x1="504.42" y1="547.65" x2="504.42" y2="543.64" stroke="#333" stroke-width="1.1" />
<line x1="502.92" y1="547.65" x2="505.92" y2="547.65" stroke="#333" stroke-width="1.1" />
<line x1="502.92" y1="543.64" x2="505.92" y2="543.64" stroke="#333" stroke-width="1.1" />
<rect x="503.17" y="544.39" width="2.50" height="2.50" fill="#000"/>
<line x1="513.50" y1="552.99" x2="513.50" y2="543.64" stroke="#333" stroke-width="1.1" />
<line x1="512.00" y1="552.99" x2="515.00" y2="552.99" stroke="#333" stroke-width="1.1" />
<line x1="512.00" y1="543.64" x2="515.00" y2="543.64" stroke="#333" stroke-width="1.1" />
<rect x="512.25" y="546.73" width="2.50" height="2.50" fill="#000"/>
<text x="455.4" y="605.0" font-size="12.6" text-anchor="middle">EC<tspan font-size="9.4" dy="2.6">50</tspan><tspan dy="-2.6"> = 8.025 µM</tspan></text>
<text x="455.40" y="620.30" font-size="12.8" font-weight="normal" text-anchor="middle" >(95% C.I. 6.366 - 10.27)</text>
<text x="455.40" y="634.90" font-size="12.75" font-weight="normal" text-anchor="middle" >Selectivity index: &gt;12.5</text>
<line x1="603.00" y1="453.00" x2="603.00" y2="560.70" stroke="#000" stroke-width="1.6" />
<line x1="598.50" y1="453.35" x2="603.00" y2="453.35" stroke="#000" stroke-width="1.4" />
<text x="597.40" y="456.35" font-size="8.3" font-weight="bold" text-anchor="end" >150</text>
<line x1="598.50" y1="485.30" x2="603.00" y2="485.30" stroke="#000" stroke-width="1.4" />
<text x="597.40" y="488.30" font-size="8.3" font-weight="bold" text-anchor="end" >100</text>
<line x1="598.50" y1="517.25" x2="603.00" y2="517.25" stroke="#000" stroke-width="1.4" />
<text x="597.40" y="520.25" font-size="8.3" font-weight="bold" text-anchor="end" >50</text>
<line x1="598.50" y1="549.20" x2="603.00" y2="549.20" stroke="#000" stroke-width="1.4" />
<text x="597.40" y="552.20" font-size="8.3" font-weight="bold" text-anchor="end" >0</text>
<line x1="602.20" y1="555.70" x2="754.70" y2="555.70" stroke="#000" stroke-width="1.6" />
<line x1="603.20" y1="555.70" x2="603.20" y2="560.20" stroke="#000" stroke-width="1.4" />
<line x1="633.50" y1="555.70" x2="633.50" y2="560.20" stroke="#000" stroke-width="1.4" />
<line x1="663.80" y1="555.70" x2="663.80" y2="560.20" stroke="#000" stroke-width="1.4" />
<line x1="694.10" y1="555.70" x2="694.10" y2="560.20" stroke="#000" stroke-width="1.4" />
<line x1="724.40" y1="555.70" x2="724.40" y2="560.20" stroke="#000" stroke-width="1.4" />
<line x1="754.70" y1="555.70" x2="754.70" y2="560.20" stroke="#000" stroke-width="1.4" />
<line x1="616.74" y1="555.70" x2="616.74" y2="558.50" stroke="#000" stroke-width="1.2" />
<line x1="623.53" y1="555.70" x2="623.53" y2="558.50" stroke="#000" stroke-width="1.2" />
<line x1="628.23" y1="555.70" x2="628.23" y2="558.50" stroke="#000" stroke-width="1.2" />
<line x1="631.41" y1="555.70" x2="631.41" y2="558.50" stroke="#000" stroke-width="1.2" />
<line x1="647.04" y1="555.70" x2="647.04" y2="558.50" stroke="#000" stroke-width="1.2" />
<line x1="653.83" y1="555.70" x2="653.83" y2="558.50" stroke="#000" stroke-width="1.2" />
<line x1="658.53" y1="555.70" x2="658.53" y2="558.50" stroke="#000" stroke-width="1.2" />
<line x1="661.71" y1="555.70" x2="661.71" y2="558.50" stroke="#000" stroke-width="1.2" />
<line x1="677.34" y1="555.70" x2="677.34" y2="558.50" stroke="#000" stroke-width="1.2" />
<line x1="684.13" y1="555.70" x2="684.13" y2="558.50" stroke="#000" stroke-width="1.2" />
<line x1="688.83" y1="555.70" x2="688.83" y2="558.50" stroke="#000" stroke-width="1.2" />
<line x1="692.01" y1="555.70" x2="692.01" y2="558.50" stroke="#000" stroke-width="1.2" />
<line x1="707.64" y1="555.70" x2="707.64" y2="558.50" stroke="#000" stroke-width="1.2" />
<line x1="714.43" y1="555.70" x2="714.43" y2="558.50" stroke="#000" stroke-width="1.2" />
<line x1="719.13" y1="555.70" x2="719.13" y2="558.50" stroke="#000" stroke-width="1.2" />
<line x1="722.31" y1="555.70" x2="722.31" y2="558.50" stroke="#000" stroke-width="1.2" />
<line x1="737.94" y1="555.70" x2="737.94" y2="558.50" stroke="#000" stroke-width="1.2" />
<line x1="744.73" y1="555.70" x2="744.73" y2="558.50" stroke="#000" stroke-width="1.2" />
<line x1="749.43" y1="555.70" x2="749.43" y2="558.50" stroke="#000" stroke-width="1.2" />
<line x1="752.61" y1="555.70" x2="752.61" y2="558.50" stroke="#000" stroke-width="1.2" />
<text x="603.20" y="569.00" font-size="8.3" font-weight="bold" text-anchor="middle" >0.01</text>
<text x="633.50" y="569.00" font-size="8.3" font-weight="bold" text-anchor="middle" >0.1</text>
<text x="663.80" y="569.00" font-size="8.3" font-weight="bold" text-anchor="middle" >1</text>
<text x="694.10" y="569.00" font-size="8.3" font-weight="bold" text-anchor="middle" >10</text>
<text x="724.40" y="569.00" font-size="8.3" font-weight="bold" text-anchor="middle" >100</text>
<text x="754.70" y="569.00" font-size="8.3" font-weight="bold" text-anchor="middle" >1000</text>
<text x="678.80" y="580.90" font-size="8.2" font-weight="bold" text-anchor="middle" >molar concentration (µM)</text>
<text x="0" y="0" font-size="8.4" font-weight="bold" text-anchor="middle" transform="translate(568.30 504.60) rotate(-90)">Viral yield</text>
<text x="0" y="0" font-size="8.3" font-weight="bold" text-anchor="middle" transform="translate(580.30 504.60) rotate(-90)">(% relative to control)</text>
<path d="M633.50,486.58 L633.95,486.58 L634.41,486.58 L634.86,486.58 L635.32,486.58 L635.77,486.58 L636.23,486.58 L636.68,486.58 L637.14,486.58 L637.59,486.58 L638.04,486.58 L638.50,486.58 L638.95,486.58 L639.41,486.58 L639.86,486.58 L640.32,486.58 L640.77,486.58 L641.23,486.58 L641.68,486.58 L642.14,486.58 L642.59,486.58 L643.04,486.58 L643.50,486.58 L643.95,486.58 L644.41,486.58 L644.86,486.58 L645.32,486.58 L645.77,486.58 L646.23,486.58 L646.68,486.58 L647.13,486.58 L647.59,486.58 L648.04,486.58 L648.50,486.58 L648.95,486.58 L649.41,486.58 L649.86,486.58 L650.32,486.58 L650.77,486.58 L651.23,486.58 L651.68,486.58 L652.13,486.58 L652.59,486.58 L653.04,486.58 L653.50,486.58 L653.95,486.58 L654.41,486.58 L654.86,486.58 L655.32,486.58 L655.77,486.58 L656.22,486.58 L656.68,486.58 L657.13,486.58 L657.59,486.58 L658.04,486.58 L658.50,486.58 L658.95,486.58 L659.41,486.58 L659.86,486.58 L660.32,486.58 L660.77,486.58 L661.22,486.58 L661.68,486.58 L662.13,486.58 L662.59,486.58 L663.04,486.58 L663.50,486.58 L663.95,486.58 L664.41,486.58 L664.86,486.58 L665.31,486.58 L665.77,486.58 L666.22,486.58 L666.68,486.58 L667.13,486.58 L667.59,486.58 L668.04,486.58 L668.50,486.58 L668.95,486.58 L669.41,486.59 L669.86,486.59 L670.31,486.59 L670.77,486.59 L671.22,486.59 L671.68,486.59 L672.13,486.60 L672.59,486.60 L673.04,486.60 L673.50,486.60 L673.95,486.61 L674.40,486.61 L674.86,486.62 L675.31,486.62 L675.77,486.63 L676.22,486.64 L676.68,486.65 L677.13,486.66 L677.59,486.67 L678.04,486.68 L678.50,486.70 L678.95,486.72 L679.40,486.74 L679.86,486.76 L680.31,486.79 L680.77,486.82 L681.22,486.85 L681.68,486.89 L682.13,486.94 L682.59,487.00 L683.04,487.06 L683.50,487.13 L683.95,487.21 L684.40,487.30 L684.86,487.40 L685.31,487.53 L685.77,487.66 L686.22,487.82 L686.68,488.00 L687.13,488.21 L687.59,488.44 L688.04,488.71 L688.49,489.01 L688.95,489.35 L689.40,489.74 L689.86,490.19 L690.31,490.68 L690.77,491.25 L691.22,491.88 L691.68,492.59 L692.13,493.38 L692.58,494.27 L693.04,495.25 L693.49,496.33 L693.95,497.52 L694.40,498.82 L694.86,500.24 L695.31,501.77 L695.77,503.41 L696.22,505.16 L696.68,507.01 L697.13,508.95 L697.58,510.97 L698.04,513.05 L698.49,515.17 L698.95,517.32 L699.40,519.47 L699.86,521.60 L700.31,523.70 L700.77,525.74 L701.22,527.71 L701.67,529.60 L702.13,531.39 L702.58,533.07 L703.04,534.65 L703.49,536.11 L703.95,537.45 L704.40,538.69 L704.86,539.81 L705.31,540.83 L705.77,541.75 L706.22,542.58 L706.67,543.32 L707.13,543.98 L707.58,544.57 L708.04,545.09 L708.49,545.55 L708.95,545.96 L709.40,546.32 L709.86,546.64 L710.31,546.92 L710.76,547.17 L711.22,547.38 L711.67,547.57 L712.13,547.74 L712.58,547.88 L713.04,548.01 L713.49,548.12 L713.95,548.22 L714.40,548.30 L714.86,548.38 L715.31,548.44 L715.76,548.50 L716.22,548.55 L716.67,548.59 L717.13,548.63 L717.58,548.66 L718.04,548.69 L718.49,548.71 L718.95,548.73 L719.40,548.75 L719.86,548.77 L720.31,548.78 L720.76,548.80 L721.22,548.81 L721.67,548.82 L722.13,548.82 L722.58,548.83 L723.04,548.84 L723.49,548.84 L723.95,548.85 L724.40,548.85" fill="none" stroke="#1a1a1a" stroke-width="1.15"/>
<rect x="632.25" y="484.05" width="2.50" height="2.50" fill="#000"/>
<line x1="678.79" y1="498.72" x2="678.79" y2="486.07" stroke="#333" stroke-width="1.1" />
<line x1="677.29" y1="498.72" x2="680.29" y2="498.72" stroke="#333" stroke-width="1.1" />
<line x1="677.29" y1="486.07" x2="680.29" y2="486.07" stroke="#333" stroke-width="1.1" />
<rect x="677.54" y="490.76" width="2.50" height="2.50" fill="#000"/>
<line x1="687.92" y1="494.25" x2="687.92" y2="478.91" stroke="#333" stroke-width="1.1" />
<line x1="686.42" y1="494.25" x2="689.42" y2="494.25" stroke="#333" stroke-width="1.1" />
<line x1="686.42" y1="478.91" x2="689.42" y2="478.91" stroke="#333" stroke-width="1.1" />
<rect x="686.67" y="485.33" width="2.50" height="2.50" fill="#000"/>
<line x1="697.04" y1="519.81" x2="697.04" y2="500.00" stroke="#333" stroke-width="1.1" />
<line x1="695.54" y1="519.81" x2="698.54" y2="519.81" stroke="#333" stroke-width="1.1" />
<line x1="695.54" y1="500.00" x2="698.54" y2="500.00" stroke="#333" stroke-width="1.1" />
<rect x="695.79" y="508.33" width="2.50" height="2.50" fill="#000"/>
<line x1="706.16" y1="545.37" x2="706.16" y2="538.98" stroke="#333" stroke-width="1.1" />
<line x1="704.66" y1="545.37" x2="707.66" y2="545.37" stroke="#333" stroke-width="1.1" />
<line x1="704.66" y1="538.98" x2="707.66" y2="538.98" stroke="#333" stroke-width="1.1" />
<rect x="704.91" y="541.56" width="2.50" height="2.50" fill="#000"/>
<rect x="714.03" y="546.67" width="2.50" height="2.50" fill="#000"/>
<rect x="723.15" y="547.95" width="2.50" height="2.50" fill="#000"/>
<text x="657.7" y="604.5" font-size="12.6" text-anchor="middle">EC<tspan font-size="9.4" dy="2.6">50</tspan><tspan dy="-2.6"> = 14.55 µM</tspan></text>
<text x="657.70" y="619.70" font-size="12.8" font-weight="normal" text-anchor="middle" >(95% C.I. 12.88 - 16.77)</text>
<text x="657.70" y="634.50" font-size="12.75" font-weight="normal" text-anchor="middle" >Selectivity index: &gt;1.73</text>
</svg>
</body></html>
